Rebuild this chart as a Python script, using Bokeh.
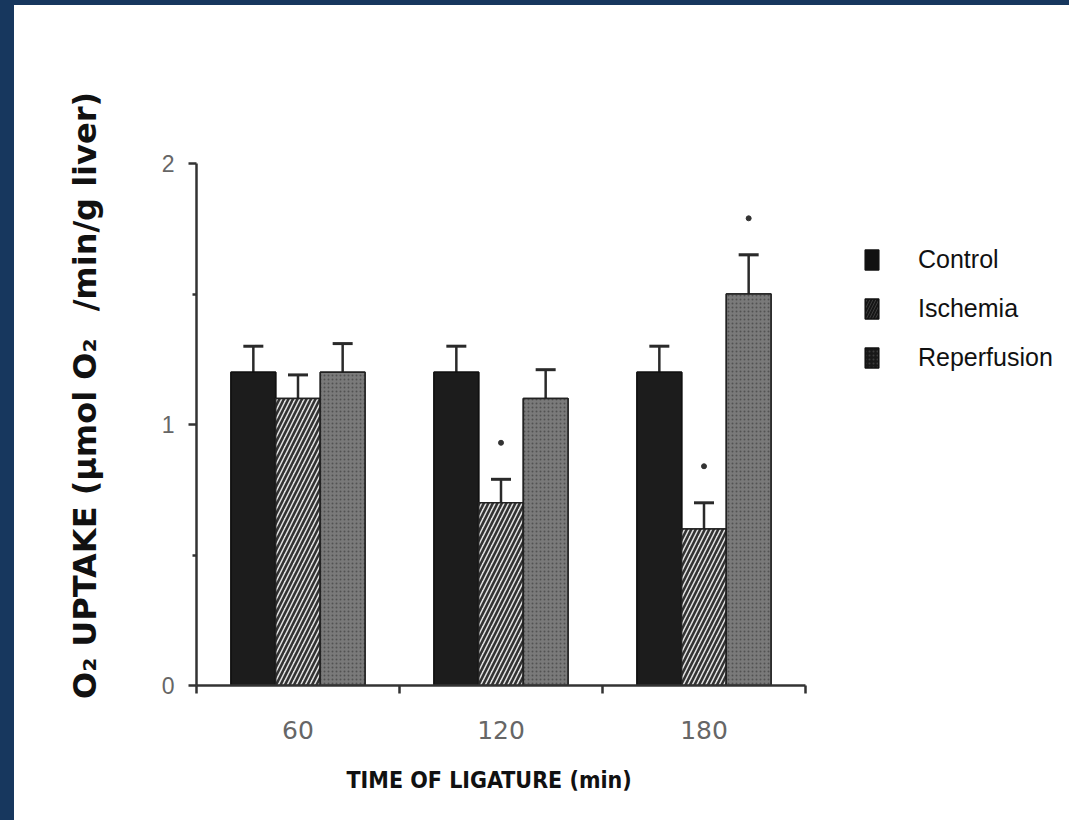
from bokeh.plotting import figure
from bokeh.layouts import column, row
from bokeh.models import (Range1d, FixedTicker, Legend, LegendItem, Whisker,
                          TeeHead, ColumnDataSource, Div, Title)
from bokeh.embed import file_html
from bokeh.resources import INLINE

# O2 uptake (umol O2/min/g liver) after ligature, mean and upper SE
times = ["60", "120", "180"]
series = ["Control", "Ischemia", "Reperfusion"]
control = [1.20, 1.20, 1.20]
control_err = [0.10, 0.10, 0.10]
ischemia = [1.10, 0.70, 0.60]
ischemia_err = [0.09, 0.09, 0.10]
reperfusion = [1.20, 1.10, 1.50]
reperfusion_err = [0.11, 0.11, 0.15]
ischemia_sig = [False, True, True]
reperfusion_sig = [False, False, True]

values = [control, ischemia, reperfusion]
errors = [control_err, ischemia_err, reperfusion_err]
signif = [[False, False, False], ischemia_sig, reperfusion_sig]

BAR_W = 0.22
offsets = [-BAR_W, 0.0, BAR_W]
PX_X = 203.0   # pixels per time group
PX_Y = 261.0   # pixels per unit of uptake
NAVY = "#17375e"

styles = [
    dict(fill_color="#1c1c1c", line_color="#111111"),
    dict(fill_color="#e2e2e2", line_color="#222222", hatch_pattern="/",
         hatch_color="#333333", hatch_scale=9, hatch_weight=2.6),
    dict(fill_color="#7a7a7a", line_color="#222222", hatch_pattern=".",
         hatch_color="#525252", hatch_scale=4, hatch_weight=1.2),
]
legend_styles = [
    dict(fill_color="#111111", line_color="#111111"),
    dict(fill_color="#151515", line_color="#111111", hatch_pattern="/",
         hatch_color="#3c3c3c", hatch_scale=6, hatch_weight=1.0),
    dict(fill_color="#181818", line_color="#111111", hatch_pattern=".",
         hatch_color="#3c3c3c", hatch_scale=4, hatch_weight=1.0),
]

W, H = 1055, 815
frame_w = W - 182
frame_h = 680 - 100

p = figure(width=W, height=H, output_backend="svg", toolbar_location=None,
           x_range=Range1d(0, frame_w / PX_X), y_range=Range1d(0, frame_h / PX_Y),
           min_border_left=182, min_border_right=0, min_border_top=100,
           min_border_bottom=135)
p.outline_line_color = None
p.grid.visible = False
p.background_fill_color = "white"
p.border_fill_color = "white"

legend_items = []
for j, name in enumerate(series):
    xs = [i + 0.5 + offsets[j] for i in range(len(times))]
    tops = [v + e for v, e in zip(values[j], errors[j])]
    src = ColumnDataSource(dict(x=xs, top=values[j], upper=tops))
    # legend swatch renderer, sits exactly underneath the visible bars
    swatch = p.vbar(x="x", top="top", bottom=0, width=BAR_W, source=src,
                    line_width=1.5, **legend_styles[j])
    p.vbar(x="x", top="top", bottom=0, width=BAR_W, source=src, line_width=1.5,
           **styles[j])
    p.add_layout(Whisker(base="x", lower="top", upper="upper", source=src,
                         dimension="height", line_width=2.5, line_color="#2a2a2a",
                         lower_head=None,
                         upper_head=TeeHead(size=20, line_width=3, line_color="#2a2a2a")))
    sx = [x for x, s in zip(xs, signif[j]) if s]
    sy = [t + 0.14 for t, s in zip(tops, signif[j]) if s]
    if sx:
        p.scatter(sx, sy, size=5, marker="circle", fill_color="#333333",
                  line_color="#333333")
    legend_items.append(LegendItem(label=name, renderers=[swatch]))

legend = Legend(items=legend_items, location=(667, 313), padding=0, margin=0,
                spacing=20, glyph_width=17, glyph_height=25, label_height=25,
                label_standoff=38, border_line_color=None,
                background_fill_alpha=0, label_text_font="Liberation Sans",
                label_text_font_size="25px", label_text_color="#111111")
p.add_layout(legend)

# y axis
ya = p.yaxis[0]
ya.bounds = (0, 2)
ya.ticker = FixedTicker(ticks=[0, 1, 2], minor_ticks=[0.5, 1.5])
ya.axis_line_width = 2.5
ya.axis_line_color = "#333333"
ya.major_tick_line_width = 2.5
ya.major_tick_line_color = "#333333"
ya.major_tick_out = 8
ya.major_tick_in = 0
ya.minor_tick_line_width = 2.5
ya.minor_tick_line_color = "#333333"
ya.minor_tick_out = 4
ya.minor_tick_in = 0
ya.major_label_standoff = 14
ya.major_label_text_font = "Liberation Sans"
ya.major_label_text_font_size = "23px"
ya.major_label_text_color = "#666666"
ya.axis_label = "O\u2082 UPTAKE (\u03bcmol O\u2082\u2002 /min/g liver)"
ya.axis_label_text_font = "DejaVu Sans"
ya.axis_label_text_font_style = "bold"
ya.axis_label_text_font_size = "32px"
ya.axis_label_text_color = "#111111"
ya.axis_label_standoff = 55

# x axis: labels at group centres, tick marks at group boundaries
xa = p.xaxis[0]
xa.bounds = (0, len(times))
xa.ticker = FixedTicker(ticks=[i + 0.5 for i in range(len(times))],
                        minor_ticks=list(range(len(times) + 1)))
xa.major_label_overrides = {i + 0.5: t for i, t in enumerate(times)}
xa.axis_line_width = 2.5
xa.axis_line_color = "#333333"
xa.major_tick_line_color = None
xa.major_tick_out = 0
xa.major_tick_in = 0
xa.minor_tick_line_width = 2.5
xa.minor_tick_line_color = "#333333"
xa.minor_tick_out = 8
xa.minor_tick_in = 0
xa.major_label_standoff = 27
xa.major_label_text_font = "DejaVu Sans"
xa.major_label_text_font_size = "25px"
xa.major_label_text_color = "#666666"

# x axis title, set under the three bar groups
p.add_layout(Title(text="TIME OF LIGATURE (min)", align="left", offset=150,
                   standoff=46, text_font="DejaVu Sans Condensed",
                   text_font_style="bold", text_font_size="23px",
                   text_color="#111111"), "below")

# navy frame strips along the top and left edges of the page
top_strip = Div(text="", width=W + 14, height=5, margin=0,
                styles={"background-color": NAVY})
left_strip = Div(text="", width=14, height=H, margin=0,
                 styles={"background-color": NAVY})
page = column(top_strip, row(left_strip, p, spacing=0), spacing=0)

open("out.html", "w").write(file_html(page, INLINE))
